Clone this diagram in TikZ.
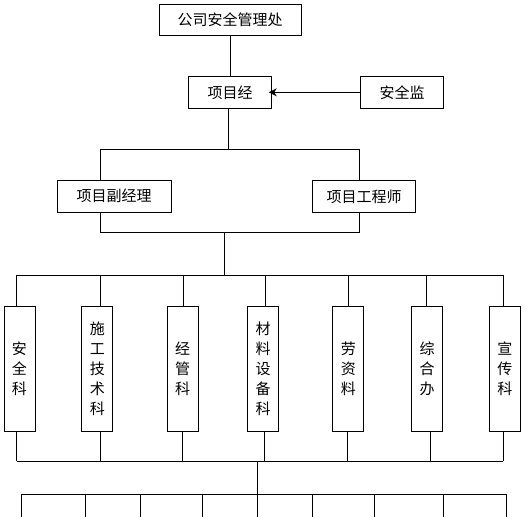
\documentclass[tikz,border=0pt]{standalone}
\usepackage{fontspec}
\newfontfamily\cjk{Noto Sans CJK SC}
\usetikzlibrary{arrows.meta}
\begin{document}
\begin{tikzpicture}[x=1pt,y=-1pt,
  box/.style={draw, line width=0.9pt, inner sep=0pt, font=\cjk\fontsize{15}{20}\selectfont},
  hbox/.style={box, minimum height=32pt},
  vbox/.style={box, align=center, minimum width=31pt, minimum height=125pt},
  ln/.style={line width=0.9pt}]
\useasboundingbox[fill=white] (0,0) rectangle (531,517);
% top part
\node[hbox, minimum width=142pt, minimum height=31pt] (top) at (230,19.8) {公司安全管理处};
\node[hbox, minimum width=82.6pt] (pm) at (230,92.3) {项目经};
\node[hbox, minimum width=82.6pt] (sj) at (402,92.3) {安全监};
\node[hbox, minimum width=113.7pt] (dep) at (114.2,196.3) {项目副经理};
\node[hbox, minimum width=103.4pt] (eng) at (364,196.3) {项目工程师};
% departments
\node[vbox] (d1) at (19.5,368.5) {安\\全\\科};
\node[vbox] (d2) at (97.3,368.5) {施\\工\\技\\术\\科};
\node[vbox] (d3) at (182.5,368.5) {经\\管\\科};
\node[vbox] (d4) at (263.2,368.5) {材\\料\\设\\备\\科};
\node[vbox] (d5) at (348.3,368.5) {劳\\资\\料};
\node[vbox] (d6) at (427,368.5) {综\\合\\办};
\node[vbox] (d7) at (504.8,368.5) {宣\\传\\科};
% bus coordinates
\coordinate (b1) at (228,149.7);
\coordinate (b1l) at (100,149.7);
\coordinate (b1r) at (359.7,149.7);
\coordinate (b2l) at (100,232.3);
\coordinate (b2r) at (359.7,232.3);
\coordinate (b2) at (224.7,232.3);
\coordinate (b3) at (224.7,275);
\coordinate (b3l) at (16.7,275);
\coordinate (b3r) at (503.3,275);
\coordinate (b4l) at (16.7,461);
\coordinate (b4r) at (503.3,461);
\coordinate (b4) at (257.3,461);
\coordinate (b5) at (257.3,494.3);
\coordinate (b5l) at (21,494.3);
\coordinate (b5r) at (506.7,494.3);
% connectors
\draw[ln] (top) -- (pm);
\draw[ln, -{Stealth[length=8pt,width=8pt]}, shorten >=-3pt] (sj) -- (pm);
\draw[ln] (b1 |- pm.south) -- (b1);
\draw[ln] (b1l |- dep.north) -- (b1l) -- (b1r) -- (b1r |- eng.north);
\draw[ln] (b2l |- dep.south) -- (b2l) -- (b2r) -- (b2r |- eng.south);
\draw[ln] (b2) -- (b3);
\draw[ln] (b3l) -- (b3r);
\foreach \i/\x in {1/16.7,2/100,3/183,4/265,5/348.7,6/426.7,7/503.3}{
  \coordinate (t\i) at (\x,275);
  \draw[ln] (t\i) -- (t\i |- d\i.north);
}
\foreach \i/\x in {1/16.7,2/100,3/182.3,4/264.3,5/347.7,6/430.3,7/503.3}{
  \coordinate (u\i) at (\x,461);
  \draw[ln] (u\i |- d\i.south) -- (u\i);
}
\draw[ln] (b4l) -- (b4r);
\draw[ln] (b4) -- (b5);
\draw[ln] (b5l) -- (b5r);
\foreach \i/\x in {1/21,2/85.3,3/140,4/202,5/257.3,6/312.3,7/374.7,8/443.3,9/506.7}{
  \coordinate (w\i) at (\x,494.3);
  \coordinate (e\i) at (\x,517);
  \draw[ln] (w\i) -- (e\i);
}
\end{tikzpicture}
\end{document}
